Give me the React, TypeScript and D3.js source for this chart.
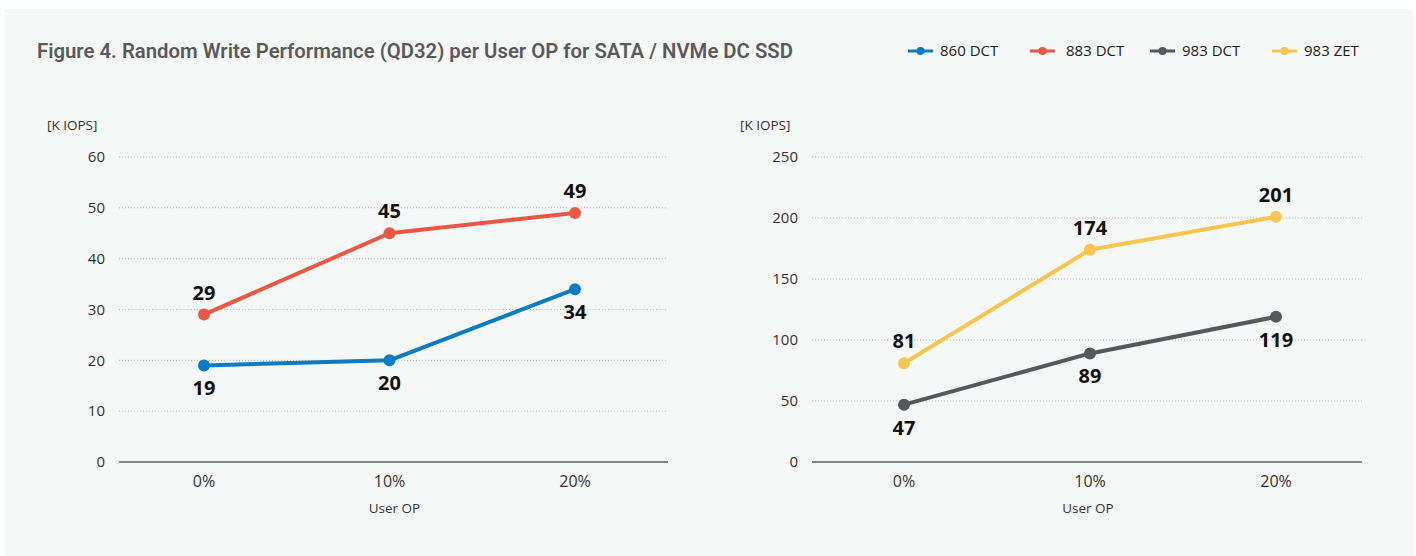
import React from 'react';
import * as d3 from 'd3';

const categories = ['0%', '10%', '20%'];

const sataSeries = [
  { name: '860 DCT', color: '#0a7cc4', values: [19, 20, 34], labelPos: ['below', 'below', 'below'] },
  { name: '883 DCT', color: '#ea5844', values: [29, 45, 49], labelPos: ['above', 'above', 'above'] },
];
const nvmeSeries = [
  { name: '983 DCT', color: '#58585a', values: [47, 89, 119], labelPos: ['below', 'below', 'below'] },
  { name: '983 ZET', color: '#f8c54e', values: [81, 174, 201], labelPos: ['above', 'above', 'above'] },
];
const sataTicks = [0, 10, 20, 30, 40, 50, 60];
const nvmeTicks = [0, 50, 100, 150, 200, 250];

const W = 1416;
const H = 556;
const FONT = "'Open Sans', 'Noto Sans', sans-serif";

type Series = { name: string; color: string; values: number[]; labelPos: string[] };

function Panel(props: {
  series: Series[];
  ticks: number[];
  axisLeft: number;
  axisRight: number;
  firstX: number;
  lastX: number;
  unitX: number;
}) {
  const { series, ticks, axisLeft, axisRight, firstX, lastX, unitX } = props;
  const top = 157;
  const bottom = 462;
  const y = d3.scaleLinear().domain([0, d3.max(ticks) as number]).range([bottom, top]);
  const x = d3.scalePoint<string>().domain(categories).range([firstX, lastX]);
  const line = d3
    .line<number>()
    .x((_, i) => x(categories[i]) as number)
    .y((d) => y(d));

  return (
    <g>
      <text x={unitX} y={130} fontSize={13.5} fill="#333" fontFamily={FONT}>
        [K IOPS]
      </text>
      {ticks.map((t) => (
        <g key={t}>
          {t !== 0 && (
            <line
              x1={axisLeft}
              x2={axisRight}
              y1={y(t)}
              y2={y(t)}
              stroke="#b9b9b9"
              strokeWidth={1}
              strokeDasharray="1,2"
            />
          )}
          <text
            x={axisLeft - 14}
            y={y(t)}
            dy="0.35em"
            textAnchor="end"
            fontSize={15}
            fill="#333"
            fontFamily={FONT}
          >
            {t}
          </text>
        </g>
      ))}
      <line x1={axisLeft} x2={axisRight} y1={bottom} y2={bottom} stroke="#888" strokeWidth={2} />
      {categories.map((c) => (
        <text
          key={c}
          x={x(c)}
          y={487}
          textAnchor="middle"
          fontSize={16}
          fill="#333"
          fontFamily={FONT}
        >
          {c}
        </text>
      ))}
      <text
        x={(axisLeft + axisRight) / 2 + 1}
        y={513}
        textAnchor="middle"
        fontSize={13.5}
        fill="#333"
        fontFamily={FONT}
      >
        User OP
      </text>
      {series.map((s) => (
        <g key={s.name}>
          <path d={line(s.values) || ''} fill="none" stroke={s.color} strokeWidth={4} strokeLinejoin="round" />
          {s.values.map((v, i) => (
            <circle key={i} cx={x(categories[i])} cy={y(v)} r={6} fill={s.color} />
          ))}
          {s.values.map((v, i) => (
            <text
              key={'l' + i}
              x={x(categories[i])}
              y={s.labelPos[i] === 'above' ? y(v) - 15 : y(v) + 30}
              textAnchor="middle"
              fontSize={20}
              fontWeight={700}
              fill="#111"
              fontFamily={FONT}
            >
              {v}
            </text>
          ))}
        </g>
      ))}
    </g>
  );
}

const legendItems = [...sataSeries, ...nvmeSeries];
const legendX = [908, 1030, 1150, 1272];

export default function App() {
  return (
    <svg
      width={W}
      height={H}
      style={{ position: 'absolute', left: 0, top: 0 }}
    >
      <rect x={0} y={0} width={W} height={H} fill="#fff" />
      <rect x={5} y={9} width={W - 7} height={H - 9} fill="#f6f7f7" />
      <text
        x={37}
        y={58}
        fontSize={21}
        fontWeight={600}
        fill="#5a5a5a"
        fontFamily="'Liberation Sans Narrow', 'Roboto', sans-serif"
        textLength={756}
        lengthAdjust="spacingAndGlyphs"
      >
        Figure 4. Random Write Performance (QD32) per User OP for SATA / NVMe DC SSD
      </text>
      {legendItems.map((s, i) => (
        <g key={s.name} transform={`translate(${legendX[i]}, 51)`}>
          <line x1={0} x2={25} y1={0} y2={0} stroke={s.color} strokeWidth={3} />
          <circle cx={12.5} cy={0} r={4} fill={s.color} />
          <text x={i === 1 ? 36 : 32} y={0} dy="0.35em" fontSize={15} fill="#222" fontFamily={FONT}>
            {s.name}
          </text>
        </g>
      ))}
      <Panel series={sataSeries} ticks={sataTicks} axisLeft={119} axisRight={668} firstX={204} lastX={575} unitX={47} />
      <Panel series={nvmeSeries} ticks={nvmeTicks} axisLeft={812} axisRight={1362} firstX={904} lastX={1276} unitX={740} />
    </svg>
  );
}
